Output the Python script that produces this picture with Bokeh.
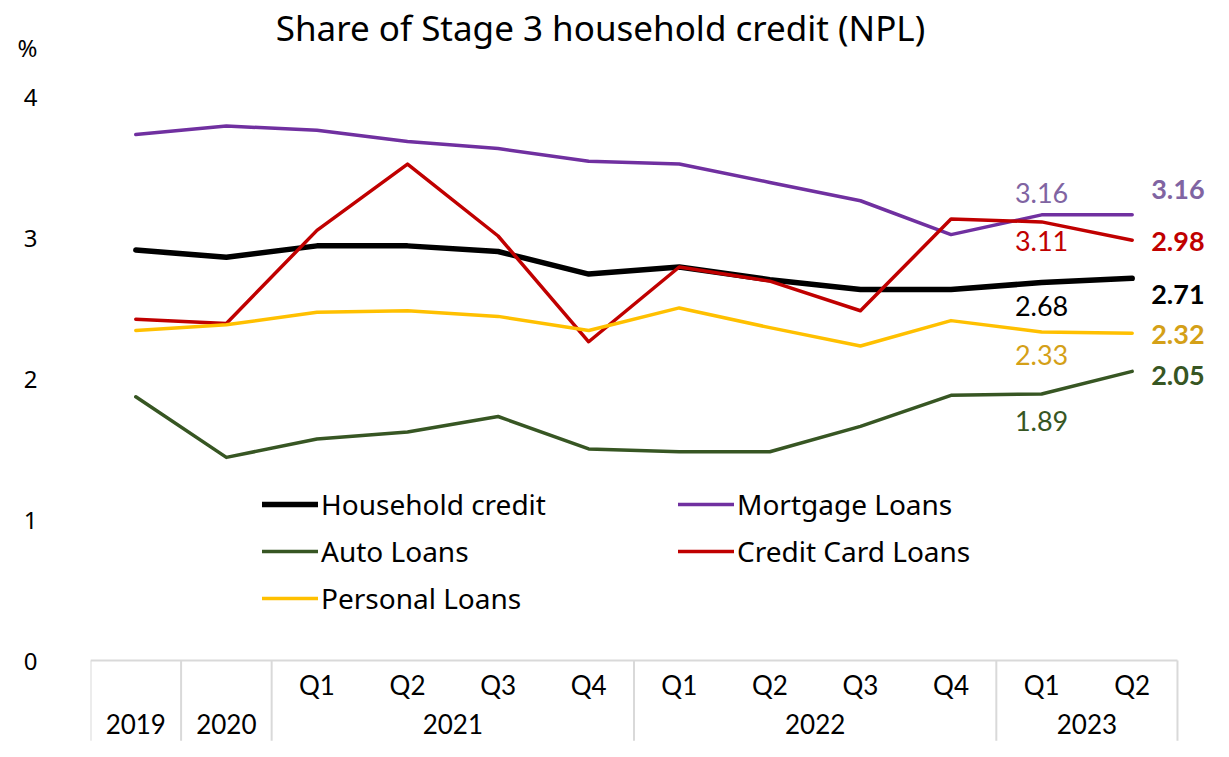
from bokeh.plotting import figure
from bokeh.models import Legend, LegendItem, FixedTicker, Range1d
from bokeh.core.properties import value
from bokeh.embed import file_html
from bokeh.resources import INLINE

# ---- data ----
title = "Share of Stage 3 household credit (NPL)"
unit = "%"
years = ["2019", "2020", "2021", "2022", "2023"]
quarters = [[], [], ["Q1", "Q2", "Q3", "Q4"], ["Q1", "Q2", "Q3", "Q4"], ["Q1", "Q2"]]

household = [2.91, 2.86, 2.94, 2.94, 2.90, 2.74, 2.79, 2.70, 2.63, 2.63, 2.68, 2.71]
mortgage = [3.73, 3.79, 3.76, 3.68, 3.63, 3.54, 3.52, 3.39, 3.26, 3.02, 3.16, 3.16]
auto = [1.87, 1.44, 1.57, 1.62, 1.73, 1.50, 1.48, 1.48, 1.66, 1.88, 1.89, 2.05]
credit_card = [2.42, 2.39, 3.05, 3.52, 3.01, 2.26, 2.79, 2.69, 2.48, 3.13, 3.11, 2.98]
personal = [2.34, 2.38, 2.47, 2.48, 2.44, 2.34, 2.50, 2.36, 2.23, 2.41, 2.33, 2.32]

y_ticks = [0, 1, 2, 3, 4]

# ---- category positions ----
xs = []
q_x, q_lab, yr_x, yr_lab, bounds = [], [], [], [], [-0.5]
i = 0
for yr, qs in zip(years, quarters):
    n = max(1, len(qs))
    for k in range(n):
        xs.append(i + k)
        if qs:
            q_x.append(i + k)
            q_lab.append(qs[k])
    yr_x.append(i + (n - 1) / 2)
    yr_lab.append(yr)
    i += n
    bounds.append(i - 0.5)

FONT = "Lato"
SANS = "Noto Sans"

Y_TOP = 4.68
UNIT_Y = 4.35

p = figure(width=1221, height=749, output_backend="svg", toolbar_location=None,
           x_range=Range1d(-0.5, 11.986), y_range=Range1d(-0.603, Y_TOP),
           x_axis_location=None, min_border_left=90, min_border_right=0,
           min_border_top=0, min_border_bottom=4)
p.outline_line_color = None
p.xgrid.visible = False
p.ygrid.visible = False
p.yaxis.ticker = FixedTicker(ticks=y_ticks + [UNIT_Y])
p.yaxis.major_label_overrides = {UNIT_Y: unit}
p.yaxis.axis_line_color = None
p.yaxis.major_tick_line_color = None
p.yaxis.minor_tick_line_color = None
p.yaxis.major_label_standoff = 47
p.yaxis.major_label_text_font = SANS
p.yaxis.major_label_text_font_style = "normal"
p.yaxis.major_label_text_font_size = "24px"
p.yaxis.major_label_text_color = "black"

# title
p.text(x=[5.13], y=[4.49], text=[title], text_align="center", text_baseline="middle",
       text_font=value(SANS), text_font_size="35px", text_color="black")

# category axis box
grey = "#D9D9D9"
p.segment(x0=[bounds[0]], y0=[0], x1=[bounds[-1]], y1=[0], line_color=grey, line_width=2)
p.segment(x0=bounds, y0=[0] * len(bounds), x1=bounds, y1=[-0.57] * len(bounds),
          line_color=grey, line_width=2)
p.text(x=q_x, y=[-0.175] * len(q_x), text=q_lab, text_align="center", text_baseline="middle",
       text_font=value(FONT), text_font_size="26px", text_color="black")
p.text(x=yr_x, y=[-0.45] * len(yr_x), text=yr_lab, text_align="center", text_baseline="middle",
       text_font=value(FONT), text_font_size="26px", text_color="black")

series = [
    ("Household credit", household, "black", 5.5),
    ("Mortgage Loans", mortgage, "#7030A0", 3.5),
    ("Auto Loans", auto, "#375623", 3.5),
    ("Credit Card Loans", credit_card, "#C00000", 3.5),
    ("Personal Loans", personal, "#FFC000", 3.5),
]
items = []
for name, vals, col, w in series:
    r = p.line(xs, vals, line_color=col, line_width=w, line_join="round", line_cap="round")
    items.append(LegendItem(label=name, renderers=[r]))

# data labels at 2023 Q1 (index 10) and 2023 Q2 (index 11)
lab_cols = {"Household credit": "black", "Mortgage Loans": "#8064A2", "Auto Loans": "#375623",
            "Credit Card Loans": "#C00000", "Personal Loans": "#D4A017"}
q1_off = {"Household credit": 23, "Mortgage Loans": -22, "Auto Loans": 27,
          "Credit Card Loans": 19, "Personal Loans": 23}
q2_off = {"Household credit": 16, "Mortgage Loans": -25, "Auto Loans": 4,
          "Credit Card Loans": 1, "Personal Loans": 1}
for name, vals, col, w in series:
    p.text(x=[xs[10]], y=[vals[10]], text=[f"{vals[10]:.2f}"], text_align="center",
           text_baseline="middle", y_offset=q1_off[name], text_font=value(FONT),
           text_font_size="27px", text_color=lab_cols[name])
    p.text(x=[xs[11]], y=[vals[11]], text=[f"{vals[11]:.2f}"], text_align="left",
           text_baseline="middle", x_offset=19, y_offset=q2_off[name], text_font=value(FONT),
           text_font_size="27px", text_font_style="bold", text_color=lab_cols[name])

legend = Legend(items=items, location=(172, 127), orientation="horizontal", ncols=2,
                label_text_font=SANS, label_text_font_size="28px", label_text_color="black",
                label_width=350, label_height=40, glyph_width=56, glyph_height=40,
                label_standoff=3, spacing=7, padding=0, margin=0, border_line_color=None,
                background_fill_alpha=0)
p.add_layout(legend)

open("out.html", "w").write(file_html(p, INLINE))
